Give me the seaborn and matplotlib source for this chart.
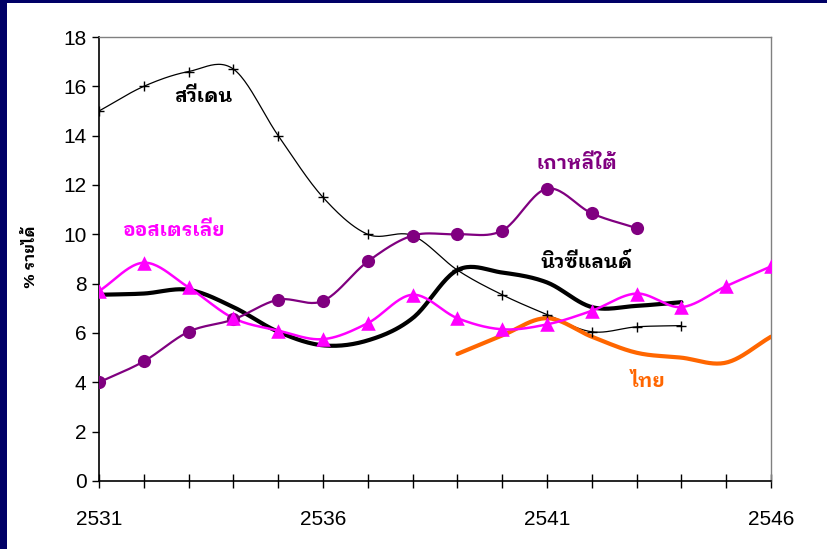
import numpy as np
import pandas as pd
import matplotlib
matplotlib.use("Agg")
import matplotlib.pyplot as plt
from matplotlib import font_manager
from matplotlib.ft2font import FT2Font
from matplotlib.patches import Rectangle
import seaborn as sns

# ---- data: income share (%) by Buddhist-era year ----
years_sweden = [2531, 2532, 2533, 2534, 2535, 2536, 2537, 2538, 2539, 2540, 2541, 2542, 2543, 2544]
sweden = [15.0, 16.0, 16.6, 16.7, 14.0, 11.5, 10.0, 9.95, 8.55, 7.55, 6.75, 6.05, 6.25, 6.3]

years_korea = [2531, 2532, 2533, 2534, 2535, 2536, 2537, 2538, 2539, 2540, 2541, 2542, 2543]
korea = [4.0, 4.85, 6.05, 6.55, 7.35, 7.3, 8.9, 9.95, 10.0, 10.15, 11.85, 10.85, 10.25]

years_australia = list(range(2531, 2547))
australia = [7.7, 8.85, 7.85, 6.6, 6.1, 5.75, 6.4, 7.55, 6.6, 6.15, 6.35, 6.9, 7.6, 7.05, 7.9, 8.7]

years_nz = [2531, 2532, 2533, 2534, 2535, 2536, 2537, 2538, 2539, 2540, 2541, 2542, 2543, 2544]
nz = [7.55, 7.6, 7.75, 7.05, 6.05, 5.5, 5.7, 6.6, 8.55, 8.45, 8.05, 7.05, 7.1, 7.25]

years_thai = [2539, 2540, 2541, 2542, 2543, 2544, 2545, 2546]
thai = [5.15, 5.9, 6.6, 5.85, 5.2, 5.0, 4.8, 5.85]

series_labels = ["สวีเดน", "เกาหลีใต้", "ออสเตรเลีย", "นิวซีแลนด์", "ไทย"]
y_label = "% รายได้"
x_tick_labels = [2531, 2536, 2541, 2546]
y_ticks = list(range(0, 19, 2))


def thai_family():
    """Return the name of an installed font that covers Thai script, looped styles first."""
    names = []
    for f in font_manager.fontManager.ttflist:
        try:
            if 0x0E2A in FT2Font(f.fname).get_charmap():
                names.append(f.name)
        except Exception:
            pass
    for key in ("Looped", "Serif Thai", "Loma", "Garuda", "Sans Thai"):
        for n in names:
            if key in n:
                return n
    return names[0] if names else "DejaVu Sans"


def smooth(xs, ys, n=24):
    """Catmull-Rom curve through the points, like a smoothed office chart line."""
    x = np.asarray(xs, float)
    y = np.asarray(ys, float)
    px = np.concatenate([[2 * x[0] - x[1]], x, [2 * x[-1] - x[-2]]])
    py = np.concatenate([[2 * y[0] - y[1]], y, [2 * y[-1] - y[-2]]])
    out_x, out_y = [], []
    t = np.linspace(0, 1, n, endpoint=False)
    for i in range(1, len(px) - 2):
        for (arr, dst) in ((px, out_x), (py, out_y)):
            a0, a1, a2, a3 = arr[i - 1], arr[i], arr[i + 1], arr[i + 2]
            dst.extend(0.5 * ((2 * a1) + (-a0 + a2) * t
                              + (2 * a0 - 5 * a1 + 4 * a2 - a3) * t ** 2
                              + (-a0 + 3 * a1 - 3 * a2 + a3) * t ** 3))
    out_x.append(x[-1])
    out_y.append(y[-1])
    return np.array(out_x), np.array(out_y)


sns.set_theme(style="white")
thai_font = thai_family()
plt.rcParams["font.family"] = ["Liberation Sans", thai_font, "DejaVu Sans"]

W, H = 828, 549
fig = plt.figure(figsize=(W / 100, H / 100), dpi=100)
fig.patch.set_facecolor("#000066")
fig.add_artist(Rectangle((7 / W, 0), 1 - 7 / W, 1 - 3 / H, transform=fig.transFigure,
                         facecolor="white", edgecolor="none", zorder=0))

ax = fig.add_axes([99 / W, (H - 481) / H, 672 / W, 444 / H])
ax.set_facecolor("white")

styles = [
    (years_sweden, sweden, "black", 0.9, "+", 60, 1.0),
    (years_nz, nz, "black", 3.0, None, 0, 0),
    (years_thai, thai, "#FF6600", 3.0, None, 0, 0),
    (years_korea, korea, "#800080", 1.6, "o", 90, 0),
    (years_australia, australia, "#FF00FF", 1.8, "^", 110, 0),
]
for xs, ys, color, lw, marker, size, mlw in styles:
    sx, sy = smooth(xs, ys)
    sns.lineplot(x=sx, y=sy, ax=ax, color=color, linewidth=lw, sort=False,
                 estimator=None, zorder=3)
    if marker:
        df = pd.DataFrame({"year": xs, "value": ys})
        if marker == "+":
            sns.scatterplot(data=df, x="year", y="value", ax=ax, marker="+",
                            s=size, color=color, linewidth=mlw, zorder=4)
        else:
            sns.scatterplot(data=df, x="year", y="value", ax=ax, marker=marker,
                            s=size, color=color, edgecolor=color, linewidth=mlw, zorder=4)

# series names
label_spec = [
    (2533.32, 15.6, "black"),
    (2541.67, 12.85, "#800080"),
    (2532.67, 10.15, "#FF00FF"),
    (2541.89, 8.85, "black"),
    (2543.25, 4.0, "#FF6600"),
]
for text, (lx, ly, c) in zip(series_labels, label_spec):
    ax.text(lx, ly, text, color=c, fontsize=14, fontweight="bold",
            ha="center", va="center", family=[thai_font, "DejaVu Sans"], zorder=5)

ax.set_xlim(2531, 2546)
ax.set_ylim(0, 18)
ax.set_xticks(years_australia)
ax.set_xticklabels([str(y) if y in x_tick_labels else "" for y in years_australia])
ax.set_yticks(y_ticks)
ax.set_yticklabels([str(v) for v in y_ticks])
ax.set_xlabel("")
ax.set_ylabel("")

for side in ("left", "bottom"):
    ax.spines[side].set_color("black")
    ax.spines[side].set_linewidth(1.2)
for side in ("top", "right"):
    ax.spines[side].set_color("#808080")
    ax.spines[side].set_linewidth(1.0)
    ax.spines[side].set_visible(True)

ax.tick_params(axis="x", direction="inout", length=10, width=1, color="black",
               labelsize=15, pad=16, bottom=True)
ax.tick_params(axis="y", direction="out", length=5, width=1, color="black",
               labelsize=15, pad=4, left=True)
for lab in ax.get_xticklabels() + ax.get_yticklabels():
    lab.set_family(["Liberation Sans", "DejaVu Sans"])
    lab.set_color("black")

fig.text(31 / W, 1 - 257 / H, y_label, rotation=90, ha="center", va="center",
         fontsize=11, fontweight="bold", color="black", family=[thai_font, "DejaVu Sans"])

fig.savefig("out.png", dpi=100, facecolor=fig.get_facecolor())
